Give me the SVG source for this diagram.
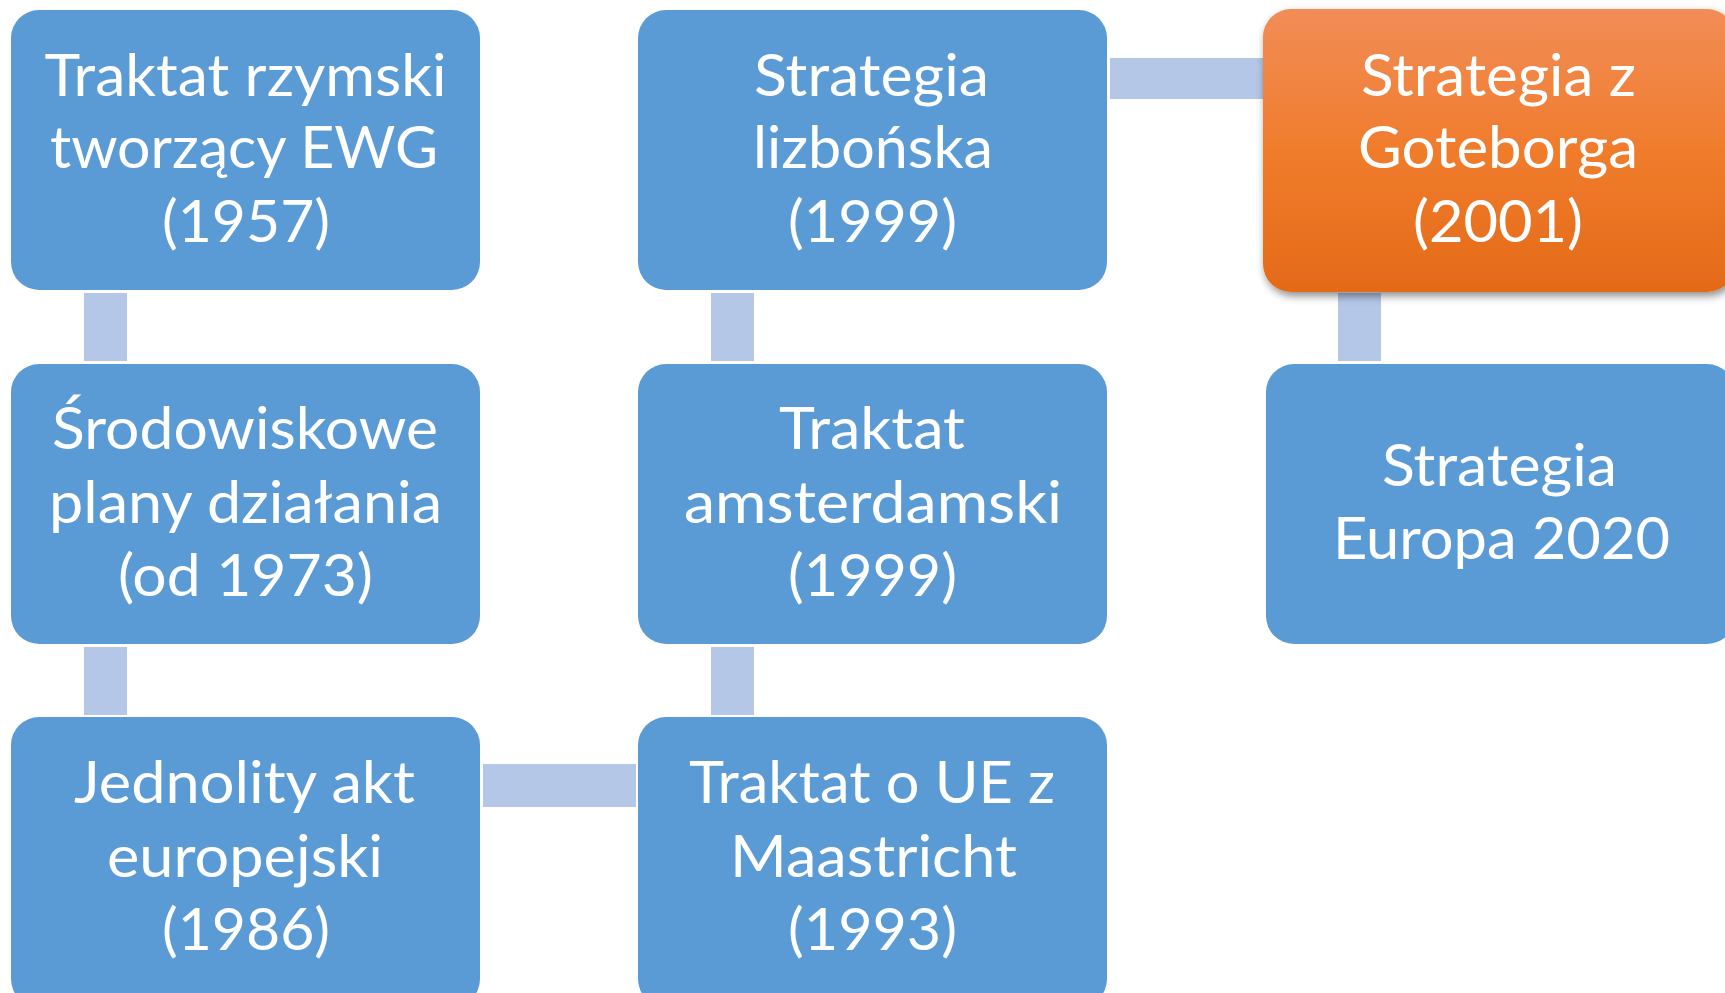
<svg xmlns="http://www.w3.org/2000/svg" width="1725" height="993" viewBox="0 0 1725 993">
<style>
.box{fill:#5B9BD5}
.con{fill:#B4C7E7}
.t{font-family:Lato,"Open Sans","Liberation Sans",sans-serif;font-size:59px;fill:#FFFFFF;text-anchor:middle}
</style>
<defs>
<linearGradient id="org" x1="0" y1="0" x2="0" y2="1">
<stop offset="0" stop-color="#F18D57"/>
<stop offset="0.5" stop-color="#F07C2C"/>
<stop offset="1" stop-color="#E46A18"/>
</linearGradient>
<filter id="sh" x="-10%" y="-10%" width="130%" height="130%">
<feDropShadow dx="2" dy="4" stdDeviation="4" flood-color="#000" flood-opacity="0.45"/>
</filter>
</defs>
<rect width="1725" height="993" fill="#FFFFFF"/>
<g id="connectors">
<rect class="con" x="84" y="293" width="43" height="68"/>
<rect class="con" x="84" y="647" width="43" height="68"/>
<rect class="con" x="711" y="293" width="43" height="68"/>
<rect class="con" x="711" y="647" width="43" height="68"/>
<rect class="con" x="1338" y="293" width="43" height="68"/>
<rect class="con" x="1110" y="58" width="155" height="41"/>
<rect class="con" x="483" y="764" width="153" height="43"/>
</g>
<g id="n1">
<rect class="box" x="11" y="10" width="469" height="280" rx="28"/>
<text class="t" x="245.5" y="96" textLength="402" lengthAdjust="spacingAndGlyphs">Traktat rzymski</text>
<text class="t" x="244" y="168" textLength="388" lengthAdjust="spacingAndGlyphs">tworzący EWG</text>
<text class="t" x="246" y="242" textLength="168" lengthAdjust="spacingAndGlyphs">(1957)</text>
</g>
<g id="n2">
<rect class="box" x="11" y="364" width="469" height="280" rx="28"/>
<text class="t" x="245" y="449" textLength="386" lengthAdjust="spacingAndGlyphs">Środowiskowe</text>
<text class="t" x="245.5" y="523" textLength="393" lengthAdjust="spacingAndGlyphs">plany działania</text>
<text class="t" x="245.5" y="596" textLength="255" lengthAdjust="spacingAndGlyphs">(od 1973)</text>
</g>
<g id="n3">
<rect class="box" x="11" y="717" width="469" height="290" rx="28"/>
<text class="t" x="244.5" y="803" textLength="341" lengthAdjust="spacingAndGlyphs">Jednolity akt</text>
<text class="t" x="245" y="877" textLength="276" lengthAdjust="spacingAndGlyphs">europejski</text>
<text class="t" x="246" y="950" textLength="168" lengthAdjust="spacingAndGlyphs">(1986)</text>
</g>
<g id="n4">
<rect class="box" x="638" y="717" width="469" height="290" rx="28"/>
<text class="t" x="872" y="803" textLength="366" lengthAdjust="spacingAndGlyphs">Traktat o UE z</text>
<text class="t" x="873.5" y="877" textLength="287" lengthAdjust="spacingAndGlyphs">Maastricht</text>
<text class="t" x="872.5" y="950" textLength="169" lengthAdjust="spacingAndGlyphs">(1993)</text>
</g>
<g id="n5">
<rect class="box" x="638" y="364" width="469" height="280" rx="28"/>
<text class="t" x="872" y="449" textLength="186" lengthAdjust="spacingAndGlyphs">Traktat</text>
<text class="t" x="873" y="523" textLength="378" lengthAdjust="spacingAndGlyphs">amsterdamski</text>
<text class="t" x="872.5" y="596" textLength="169" lengthAdjust="spacingAndGlyphs">(1999)</text>
</g>
<g id="n6">
<rect class="box" x="638" y="10" width="469" height="280" rx="28"/>
<text class="t" x="871.5" y="96" textLength="235" lengthAdjust="spacingAndGlyphs">Strategia</text>
<text class="t" x="873" y="168" textLength="240" lengthAdjust="spacingAndGlyphs">lizbońska</text>
<text class="t" x="872.5" y="242" textLength="169" lengthAdjust="spacingAndGlyphs">(1999)</text>
</g>
<g id="n7">
<rect x="1263" y="9" width="472" height="283" rx="28" fill="url(#org)" filter="url(#sh)"/>
<text class="t" x="1498.5" y="96" textLength="275" lengthAdjust="spacingAndGlyphs">Strategia z</text>
<text class="t" x="1498" y="168" textLength="280" lengthAdjust="spacingAndGlyphs">Goteborga</text>
<text class="t" x="1498" y="242" textLength="170" lengthAdjust="spacingAndGlyphs">(2001)</text>
</g>
<g id="n8">
<rect class="box" x="1266" y="364" width="469" height="280" rx="28"/>
<text class="t" x="1499.5" y="486" textLength="235" lengthAdjust="spacingAndGlyphs">Strategia</text>
<text class="t" x="1501.5" y="559" textLength="337" lengthAdjust="spacingAndGlyphs">Europa 2020</text>
</g>
</svg>
